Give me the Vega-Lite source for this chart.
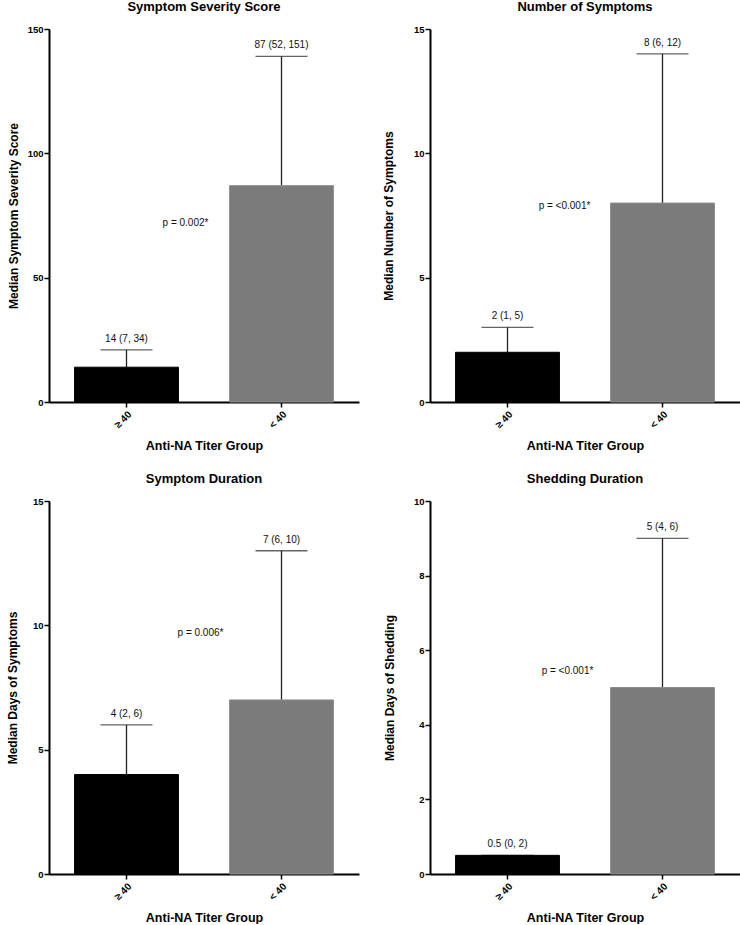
{
  "$schema": "https://vega.github.io/schema/vega-lite/v6.json",
  "padding": {"left": 6, "top": 1, "right": 0, "bottom": 0},
  "background": "white",
  "config": {
    "font": "Liberation Sans",
    "view": {"stroke": null},
    "axis": {
      "domainColor": "#000000",
      "domainWidth": 2,
      "tickColor": "#000000",
      "tickWidth": 1.5,
      "tickSize": 5,
      "grid": false,
      "labelColor": "#000000",
      "titleColor": "#000000",
      "labelFont": "Liberation Sans",
      "titleFont": "Liberation Sans"
    },
    "title": {"font": "Liberation Sans", "fontSize": 13, "fontWeight": "bold", "color": "#000000", "offset": 10, "anchor": "middle"}
  },
  "datasets": {
    "bars": [
      {"panel": "Symptom Severity Score", "group": "≥ 40", "median": 14, "upper": 21, "label": "14 (7, 34)"},
      {"panel": "Symptom Severity Score", "group": "< 40", "median": 87, "upper": 139, "label": "87 (52, 151)"},
      {"panel": "Number of Symptoms", "group": "≥ 40", "median": 2, "upper": 3, "label": "2 (1, 5)"},
      {"panel": "Number of Symptoms", "group": "< 40", "median": 8, "upper": 14, "label": "8 (6, 12)"},
      {"panel": "Symptom Duration", "group": "≥ 40", "median": 4, "upper": 6, "label": "4 (2, 6)"},
      {"panel": "Symptom Duration", "group": "< 40", "median": 7, "upper": 13, "label": "7 (6, 10)"},
      {"panel": "Shedding Duration", "group": "≥ 40", "median": 0.5, "upper": 0.5, "label": "0.5 (0, 2)"},
      {"panel": "Shedding Duration", "group": "< 40", "median": 5, "upper": 9, "label": "5 (4, 6)"}
    ],
    "tests": [
      {"panel": "Symptom Severity Score", "p": "p = 0.002*"},
      {"panel": "Number of Symptoms", "p": "p = <0.001*"},
      {"panel": "Symptom Duration", "p": "p = 0.006*"},
      {"panel": "Shedding Duration", "p": "p = <0.001*"}
    ]
  },
  "columns": 2,
  "spacing": {"column": 71, "row": 99},
  "bounds": "flush",
  "concat": [
    {
      "title": "Symptom Severity Score",
      "width": 310, "height": 373,
      "layer": [
        {
          "data": {"name": "bars"},
          "transform": [{"filter": "datum.panel === 'Symptom Severity Score'"}],
          "layer": [
            {"mark": {"type": "rule", "color": "#222222", "strokeWidth": 1.3}, "encoding": {"y": {"field": "median", "type": "quantitative"}, "y2": {"field": "upper"}}},
            {"mark": {"type": "tick", "color": "#222222", "thickness": 1.3, "size": 52}, "encoding": {"y": {"field": "upper", "type": "quantitative"}}},
            {"mark": {"type": "bar", "strokeWidth": 1}, "encoding": {"y": {"field": "median", "type": "quantitative"}, "color": {"field": "group", "type": "nominal", "scale": {"domain": ["≥ 40", "< 40"], "range": ["#000000", "#7b7b7b"]}, "legend": null}, "stroke": {"field": "group", "type": "nominal", "scale": {"domain": ["≥ 40", "< 40"], "range": ["#000000", "#8c8c8c"]}, "legend": null}}},
            {"mark": {"type": "text", "fontSize": 10, "baseline": "alphabetic", "dy": -8, "color": "#111111"}, "encoding": {"y": {"field": "upper", "type": "quantitative"}, "text": {"field": "label"}}}
          ],
          "encoding": {
            "x": {"field": "group", "type": "nominal", "sort": ["≥ 40", "< 40"], "scale": {"paddingInner": 0.33, "paddingOuter": 0.165}, "axis": {"title": "Anti-NA Titer Group", "titleFontSize": 12.5, "titleFontWeight": "bold", "titleY": 43, "titleBaseline": "middle", "labelAngle": -45, "labelFontSize": 10, "labelFontWeight": "bold", "labelPadding": 2}},
            "y": {"type": "quantitative", "scale": {"domain": [0, 150], "nice": false}, "axis": {"title": "Median Symptom Severity Score", "values": [0, 50, 100, 150], "titleFontSize": 12, "titleFontWeight": "bold", "titleX": -36, "titleY": 186.5, "titleBaseline": "middle", "labelFontSize": 9.5, "labelFontWeight": "bold", "labelPadding": 1}}
          }
        },
        {
          "data": {"name": "tests"},
          "transform": [{"filter": "datum.panel === 'Symptom Severity Score'"}],
          "mark": {"type": "text", "fontSize": 10, "dx": 59, "baseline": "middle", "color": "#111111"},
          "encoding": {"x": {"datum": "≥ 40", "type": "nominal"}, "y": {"datum": 72, "type": "quantitative"}, "text": {"field": "p"}}
        }
      ]
    },
    {
      "title": "Number of Symptoms",
      "width": 310, "height": 373,
      "layer": [
        {
          "data": {"name": "bars"},
          "transform": [{"filter": "datum.panel === 'Number of Symptoms'"}],
          "layer": [
            {"mark": {"type": "rule", "color": "#222222", "strokeWidth": 1.3}, "encoding": {"y": {"field": "median", "type": "quantitative"}, "y2": {"field": "upper"}}},
            {"mark": {"type": "tick", "color": "#222222", "thickness": 1.3, "size": 52}, "encoding": {"y": {"field": "upper", "type": "quantitative"}}},
            {"mark": {"type": "bar", "strokeWidth": 1}, "encoding": {"y": {"field": "median", "type": "quantitative"}, "color": {"field": "group", "type": "nominal", "scale": {"domain": ["≥ 40", "< 40"], "range": ["#000000", "#7b7b7b"]}, "legend": null}, "stroke": {"field": "group", "type": "nominal", "scale": {"domain": ["≥ 40", "< 40"], "range": ["#000000", "#8c8c8c"]}, "legend": null}}},
            {"mark": {"type": "text", "fontSize": 10, "baseline": "alphabetic", "dy": -8, "color": "#111111"}, "encoding": {"y": {"field": "upper", "type": "quantitative"}, "text": {"field": "label"}}}
          ],
          "encoding": {
            "x": {"field": "group", "type": "nominal", "sort": ["≥ 40", "< 40"], "scale": {"paddingInner": 0.33, "paddingOuter": 0.165}, "axis": {"title": "Anti-NA Titer Group", "titleFontSize": 12.5, "titleFontWeight": "bold", "titleY": 43, "titleBaseline": "middle", "labelAngle": -45, "labelFontSize": 10, "labelFontWeight": "bold", "labelPadding": 2}},
            "y": {"type": "quantitative", "scale": {"domain": [0, 15], "nice": false}, "axis": {"title": "Median Number of Symptoms", "values": [0, 5, 10, 15], "titleFontSize": 12, "titleFontWeight": "bold", "titleX": -42, "titleY": 186.5, "titleBaseline": "middle", "labelFontSize": 9.5, "labelFontWeight": "bold", "labelPadding": 1}}
          }
        },
        {
          "data": {"name": "tests"},
          "transform": [{"filter": "datum.panel === 'Number of Symptoms'"}],
          "mark": {"type": "text", "fontSize": 10, "dx": 57, "baseline": "middle", "color": "#111111"},
          "encoding": {"x": {"datum": "≥ 40", "type": "nominal"}, "y": {"datum": 7.9, "type": "quantitative"}, "text": {"field": "p"}}
        }
      ]
    },
    {
      "title": "Symptom Duration",
      "width": 310, "height": 373,
      "layer": [
        {
          "data": {"name": "bars"},
          "transform": [{"filter": "datum.panel === 'Symptom Duration'"}],
          "layer": [
            {"mark": {"type": "rule", "color": "#222222", "strokeWidth": 1.3}, "encoding": {"y": {"field": "median", "type": "quantitative"}, "y2": {"field": "upper"}}},
            {"mark": {"type": "tick", "color": "#222222", "thickness": 1.3, "size": 52}, "encoding": {"y": {"field": "upper", "type": "quantitative"}}},
            {"mark": {"type": "bar", "strokeWidth": 1}, "encoding": {"y": {"field": "median", "type": "quantitative"}, "color": {"field": "group", "type": "nominal", "scale": {"domain": ["≥ 40", "< 40"], "range": ["#000000", "#7b7b7b"]}, "legend": null}, "stroke": {"field": "group", "type": "nominal", "scale": {"domain": ["≥ 40", "< 40"], "range": ["#000000", "#8c8c8c"]}, "legend": null}}},
            {"mark": {"type": "text", "fontSize": 10, "baseline": "alphabetic", "dy": -8, "color": "#111111"}, "encoding": {"y": {"field": "upper", "type": "quantitative"}, "text": {"field": "label"}}}
          ],
          "encoding": {
            "x": {"field": "group", "type": "nominal", "sort": ["≥ 40", "< 40"], "scale": {"paddingInner": 0.33, "paddingOuter": 0.165}, "axis": {"title": "Anti-NA Titer Group", "titleFontSize": 12.5, "titleFontWeight": "bold", "titleY": 43, "titleBaseline": "middle", "labelAngle": -45, "labelFontSize": 10, "labelFontWeight": "bold", "labelPadding": 2}},
            "y": {"type": "quantitative", "scale": {"domain": [0, 15], "nice": false}, "axis": {"title": "Median Days of Symptoms", "values": [0, 5, 10, 15], "titleFontSize": 12, "titleFontWeight": "bold", "titleX": -37, "titleY": 186.5, "titleBaseline": "middle", "labelFontSize": 9.5, "labelFontWeight": "bold", "labelPadding": 1}}
          }
        },
        {
          "data": {"name": "tests"},
          "transform": [{"filter": "datum.panel === 'Symptom Duration'"}],
          "mark": {"type": "text", "fontSize": 10, "dx": 74, "baseline": "middle", "color": "#111111"},
          "encoding": {"x": {"datum": "≥ 40", "type": "nominal"}, "y": {"datum": 9.7, "type": "quantitative"}, "text": {"field": "p"}}
        }
      ]
    },
    {
      "title": "Shedding Duration",
      "width": 310, "height": 373,
      "layer": [
        {
          "data": {"name": "bars"},
          "transform": [{"filter": "datum.panel === 'Shedding Duration'"}],
          "layer": [
            {"mark": {"type": "rule", "color": "#222222", "strokeWidth": 1.3}, "encoding": {"y": {"field": "median", "type": "quantitative"}, "y2": {"field": "upper"}}},
            {"mark": {"type": "tick", "color": "#222222", "thickness": 1.3, "size": 52}, "encoding": {"y": {"field": "upper", "type": "quantitative"}}},
            {"mark": {"type": "bar", "strokeWidth": 1}, "encoding": {"y": {"field": "median", "type": "quantitative"}, "color": {"field": "group", "type": "nominal", "scale": {"domain": ["≥ 40", "< 40"], "range": ["#000000", "#7b7b7b"]}, "legend": null}, "stroke": {"field": "group", "type": "nominal", "scale": {"domain": ["≥ 40", "< 40"], "range": ["#000000", "#8c8c8c"]}, "legend": null}}},
            {"mark": {"type": "text", "fontSize": 10, "baseline": "alphabetic", "dy": -8, "color": "#111111"}, "encoding": {"y": {"field": "upper", "type": "quantitative"}, "text": {"field": "label"}}}
          ],
          "encoding": {
            "x": {"field": "group", "type": "nominal", "sort": ["≥ 40", "< 40"], "scale": {"paddingInner": 0.33, "paddingOuter": 0.165}, "axis": {"title": "Anti-NA Titer Group", "titleFontSize": 12.5, "titleFontWeight": "bold", "titleY": 43, "titleBaseline": "middle", "labelAngle": -45, "labelFontSize": 10, "labelFontWeight": "bold", "labelPadding": 2}},
            "y": {"type": "quantitative", "scale": {"domain": [0, 10], "nice": false}, "axis": {"title": "Median Days of Shedding", "values": [0, 2, 4, 6, 8, 10], "titleFontSize": 12, "titleFontWeight": "bold", "titleX": -41, "titleY": 186.5, "titleBaseline": "middle", "labelFontSize": 9.5, "labelFontWeight": "bold", "labelPadding": 1}}
          }
        },
        {
          "data": {"name": "tests"},
          "transform": [{"filter": "datum.panel === 'Shedding Duration'"}],
          "mark": {"type": "text", "fontSize": 10, "dx": 60, "baseline": "middle", "color": "#111111"},
          "encoding": {"x": {"datum": "≥ 40", "type": "nominal"}, "y": {"datum": 5.43, "type": "quantitative"}, "text": {"field": "p"}}
        }
      ]
    }
  ]
}
